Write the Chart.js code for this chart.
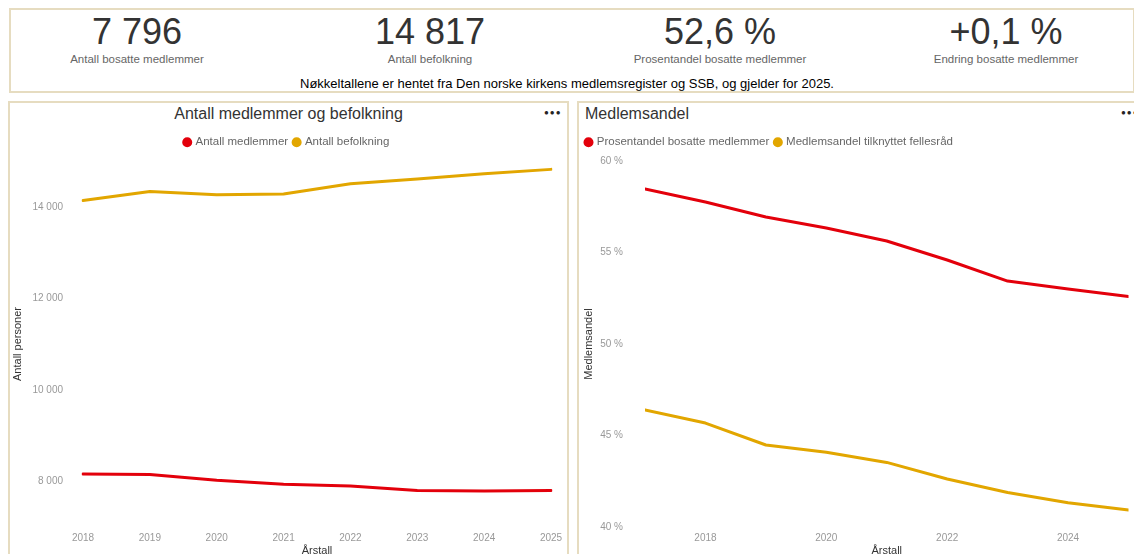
<!DOCTYPE html>
<html>
<head>
<meta charset="utf-8">
<script src="https://cdn.jsdelivr.net/npm/chart.js@4.4.1/dist/chart.umd.min.js"></script>
<style>
  html, body { margin:0; padding:0; width:1134px; height:554px; overflow:hidden; background:#fff; font-family:"Liberation Sans", Arial, sans-serif; }
  .box { position:absolute; border:2px solid #e6dcc0; box-sizing:border-box; background:#fff; }
  .abs { position:absolute; white-space:nowrap; }
  .kval { font-size:36px; line-height:36px; color:#333; text-align:center; width:300px; }
  .klab { font-size:11.5px; line-height:14px; color:#666; text-align:center; width:300px; }
  .title { font-size:16px; line-height:20px; color:#333; }
  .dots { font-size:8px; color:#252423; letter-spacing:1px; }
  canvas { position:absolute; }
</style>
</head>
<body>
<div class="box" style="left:9px; top:8px; width:1126px; height:85px;"></div>
<div id="kpis"></div>
<div class="abs" style="left:0; width:1134px; top:76px; text-align:center; font-size:13px; line-height:16px; color:#000;">Nøkkeltallene er hentet fra Den norske kirkens medlemsregister og SSB, og gjelder for 2025.</div>

<div class="box" style="left:8px; top:101px; width:561px; height:470px;"></div>
<div class="box" style="left:577px; top:101px; width:570px; height:470px;"></div>

<div class="abs title" style="left:8px; width:561px; top:104px; text-align:center;">Antall medlemmer og befolkning</div>
<div class="abs dots" style="left:544px; top:108px;">●●●</div>
<div class="abs title" style="left:585px; top:104px;">Medlemsandel</div>
<div class="abs dots" style="left:1121px; top:108px;">●●●</div>

<canvas id="c1" width="554" height="436" style="left:10px; top:126px;"></canvas>
<canvas id="c2" width="554" height="436" style="left:580px; top:126px;"></canvas>

<script>
// ---- KPI data ----
const kpiValues = ["7 796", "14 817", "52,6 %", "+0,1 %"];
const kpiLabels = ["Antall bosatte medlemmer", "Antall befolkning", "Prosentandel bosatte medlemmer", "Endring bosatte medlemmer"];

// ---- Chart 1 data ----
const years = ["2018", "2019", "2020", "2021", "2022", "2023", "2024", "2025"];
const members = [8160, 8147, 8022, 7934, 7897, 7800, 7788, 7796];
const population = [14138, 14335, 14263, 14278, 14504, 14607, 14723, 14817];
const leftTicks = [8000, 10000, 12000, 14000];

// ---- Chart 2 data ----
const shareYears = [2017, 2018, 2019, 2020, 2021, 2022, 2023, 2024, 2025];
const shareResident = [58.47, 57.76, 56.94, 56.34, 55.63, 54.59, 53.44, 53.0, 52.6];
const shareCouncil = [46.4, 45.68, 44.48, 44.08, 43.53, 42.62, 41.89, 41.33, 40.93];
const rightYTicks = [40, 45, 50, 55, 60];
const rightXTicks = [2018, 2020, 2022, 2024];

// ---- KPI layout ----
const kpiCenters = [137, 430, 720, 1006];
const kdiv = document.getElementById('kpis');
kpiValues.forEach((v, i) => {
  const a = document.createElement('div');
  a.className = 'abs kval'; a.style.left = (kpiCenters[i] - 150) + 'px'; a.style.top = '14px'; a.textContent = v;
  kdiv.appendChild(a);
  const b = document.createElement('div');
  b.className = 'abs klab'; b.style.left = (kpiCenters[i] - 150) + 'px'; b.style.top = '52px'; b.textContent = kpiLabels[i];
  kdiv.appendChild(b);
});

const RED = '#e3000b';
const GOLD = '#e2a600';
const FONT = '"Liberation Sans", Arial, sans-serif';
const fmtThousands = v => String(v).replace(/\B(?=(\d{3})+(?!\d))/g, ' ');

// adds a little space below the legend
const legendExtra = {
  id: 'legendExtra',
  beforeInit(chart) {
    const lg = chart.legend;
    if (!lg) return;
    const f = lg.fit;
    lg.fit = function () { f.call(this); this.height += 3; };
  }
};

function legendOpts(align) {
  return {
    display: true, position: 'top', align: align,
    labels: { usePointStyle: true, pointStyle: 'circle', boxWidth: 5, boxHeight: 5, padding: 6,
      color: '#666', font: { family: FONT, size: 11.5 } }
  };
}

const lineDs = (label, data, color) => ({
  label, data, borderColor: color, backgroundColor: color, borderWidth: 3,
  pointRadius: 0, pointHoverRadius: 0, tension: 0, borderJoinStyle: 'round', borderCapStyle: 'round'
});

// Chart 1
new Chart(document.getElementById('c1'), {
  type: 'line',
  plugins: [legendExtra],
  data: { labels: years, datasets: [lineDs('Antall medlemmer', members, RED), lineDs('Antall befolkning', population, GOLD)] },
  options: {
    responsive: false, animation: false, devicePixelRatio: 1,
    layout: { padding: 0 },
    plugins: { legend: legendOpts('center'), tooltip: { enabled: false } },
    scales: {
      x: {
        type: 'category', offset: false,
        grid: { display: false, drawTicks: false }, border: { display: false },
        ticks: { color: '#999', font: { family: FONT, size: 10 }, padding: 5, maxRotation: 0, autoSkip: false },
        title: { display: true, text: 'Årstall', color: '#333', font: { family: FONT, size: 11 }, padding: { top: 0, bottom: 4 } },
        afterFit: s => { s.height = 35; s.paddingRight = 13; }
      },
      y: {
        min: 7000, max: 15000,
        grid: { display: false, drawTicks: false }, border: { display: false },
        afterBuildTicks: s => { s.ticks = leftTicks.map(v => ({ value: v })); },
        ticks: { color: '#999', font: { family: FONT, size: 10 }, padding: 20, callback: v => fmtThousands(v) },
        title: { display: true, text: 'Antall personer', color: '#333', font: { family: FONT, size: 11 }, padding: { top: 1, bottom: 0 } },
        afterFit: s => { s.width = 73; s.paddingTop = 35; }
      }
    }
  }
});

// Chart 2
new Chart(document.getElementById('c2'), {
  type: 'line',
  plugins: [legendExtra],
  data: { datasets: [
    lineDs('Prosentandel bosatte medlemmer', shareYears.map((x, i) => ({ x, y: shareResident[i] })), RED),
    lineDs('Medlemsandel tilknyttet fellesråd', shareYears.map((x, i) => ({ x, y: shareCouncil[i] })), GOLD)
  ] },
  options: {
    responsive: false, animation: false, devicePixelRatio: 1,
    layout: { padding: 0 },
    plugins: { legend: legendOpts('start'), tooltip: { enabled: false } },
    scales: {
      x: {
        type: 'linear', min: 2017, max: 2025,
        grid: { display: false, drawTicks: false }, border: { display: false },
        afterBuildTicks: s => { s.ticks = rightXTicks.map(v => ({ value: v })); },
        ticks: { color: '#999', font: { family: FONT, size: 10 }, padding: 5, maxRotation: 0, callback: v => String(v) },
        title: { display: true, text: 'Årstall', color: '#333', font: { family: FONT, size: 11 }, padding: { top: 0, bottom: 4 } },
        afterFit: s => { s.height = 35; s.paddingRight = 5.5; }
      },
      y: {
        min: 40, max: 60,
        grid: { display: false, drawTicks: false }, border: { display: false },
        afterBuildTicks: s => { s.ticks = rightYTicks.map(v => ({ value: v })); },
        ticks: { color: '#999', font: { family: FONT, size: 10 }, padding: 22, callback: v => v + ' %' },
        title: { display: true, text: 'Medlemsandel', color: '#333', font: { family: FONT, size: 11 }, padding: { top: 2, bottom: 0 } },
        afterFit: s => { s.width = 65; s.paddingTop = 35; }
      }
    }
  }
});
</script>
</body>
</html>
